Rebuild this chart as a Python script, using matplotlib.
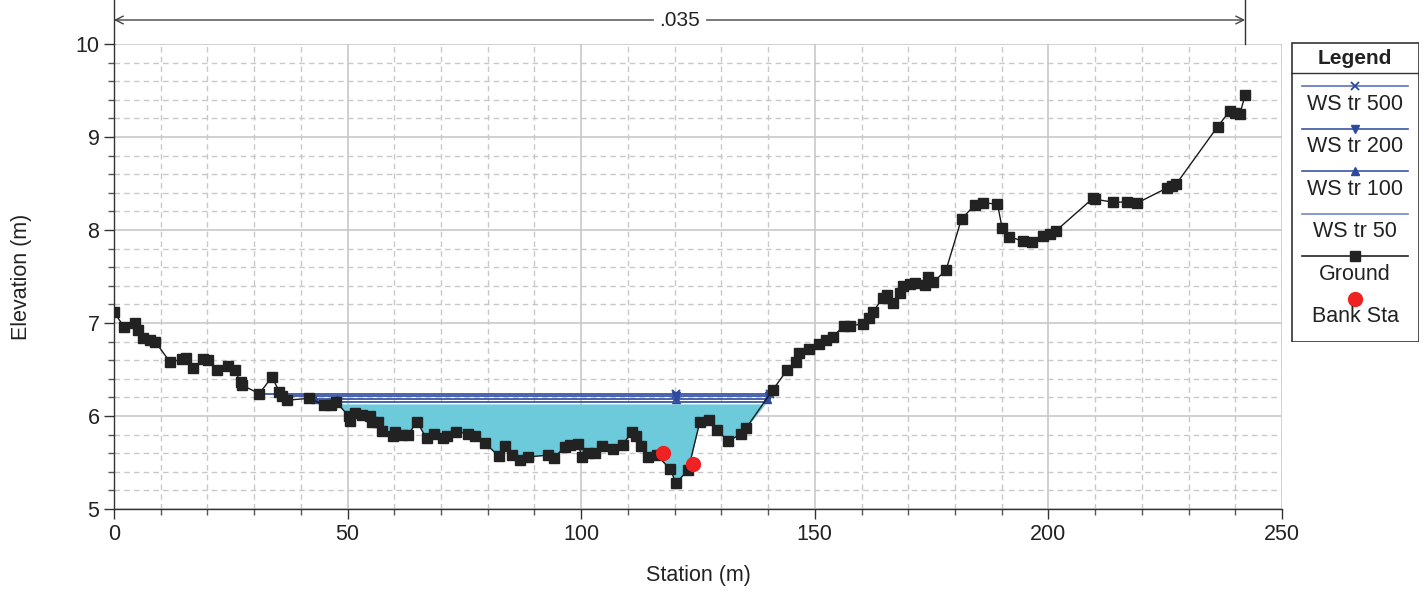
import matplotlib
matplotlib.use("Agg")
import matplotlib.pyplot as plt
import matplotlib.transforms as mtrans
from matplotlib.lines import Line2D
from matplotlib.patches import Rectangle
from matplotlib.ticker import MultipleLocator
import numpy as np

plt.rcParams['font.family'] = ['Liberation Sans', 'DejaVu Sans']

# ---------------- data ----------------
ground_x = [0.0, 2.1, 4.4, 5.2, 6.3, 7.7, 8.8, 12.0, 14.5, 15.4, 17.0, 19.1, 20.2, 22.0, 24.5, 25.8,
            27.1, 27.5, 31.1, 33.8, 35.4, 35.9, 37.0, 41.8, 44.9, 46.4, 47.6, 50.2, 50.6, 51.6, 53.0,
            54.7, 55.2, 56.6, 57.3, 59.8, 60.1, 61.6, 63.0, 64.8, 66.9, 68.5, 70.5, 71.3, 73.3, 75.8,
            77.3, 79.4, 82.3, 83.7, 85.1, 86.9, 88.7, 93.0, 94.2, 96.5, 97.6, 99.4, 100.1, 101.5,
            103.0, 104.4, 106.9, 108.9, 110.8, 111.7, 112.7, 114.4, 116.2, 119.0, 120.3, 122.9,
            125.4, 127.4, 129.0, 131.5, 134.3, 135.3, 141.0, 144.0, 146.0, 146.7, 148.8, 151.0,
            152.4, 153.8, 156.2, 157.5, 160.4, 161.5, 162.5, 164.5, 165.4, 166.8, 168.2, 168.9,
            170.4, 171.4, 173.6, 174.3, 175.4, 178.1, 181.4, 184.3, 186.1, 189.1, 190.1, 191.6,
            194.5, 196.4, 198.9, 200.3, 201.6, 209.5, 210.0, 213.8, 216.8, 219.0, 225.3, 226.4,
            227.3, 236.2, 238.8, 240.0, 241.0, 242.1]
ground_y = [7.12, 6.96, 7.00, 6.93, 6.84, 6.82, 6.80, 6.58, 6.61, 6.62, 6.52, 6.61, 6.60, 6.49, 6.54, 6.49,
            6.37, 6.33, 6.24, 6.42, 6.26, 6.22, 6.17, 6.19, 6.12, 6.12, 6.15, 6.00, 5.95, 6.03, 6.01,
            6.00, 5.94, 5.94, 5.84, 5.78, 5.83, 5.80, 5.80, 5.94, 5.76, 5.81, 5.76, 5.78, 5.83, 5.81,
            5.78, 5.71, 5.57, 5.68, 5.58, 5.53, 5.56, 5.58, 5.55, 5.67, 5.69, 5.70, 5.56, 5.60,
            5.60, 5.68, 5.65, 5.69, 5.83, 5.78, 5.68, 5.56, 5.58, 5.43, 5.28, 5.42,
            5.94, 5.96, 5.85, 5.73, 5.81, 5.87, 6.28, 6.49, 6.58, 6.68, 6.72, 6.77,
            6.82, 6.85, 6.97, 6.97, 6.99, 7.05, 7.12, 7.27, 7.30, 7.21, 7.32, 7.40,
            7.42, 7.43, 7.41, 7.50, 7.44, 7.57, 8.12, 8.27, 8.29, 8.28, 8.02, 7.93,
            7.88, 7.87, 7.94, 7.96, 7.99, 8.34, 8.33, 8.30, 8.30, 8.29, 8.45, 8.47,
            8.49, 9.11, 9.28, 9.26, 9.25, 9.45]

bank_x = [117.6, 124.0]
bank_y = [5.60, 5.48]

ws_labels = ["WS tr 500", "WS tr 200", "WS tr 100", "WS tr 50"]
ws_elev = [6.24, 6.21, 6.18, 6.15]
water_fill_elev = 6.13
ws500_x = [31.2, 120.3, 140.4]
ws200_x = [35.9, 120.3, 140.1]
ws100_x = [43.0, 47.8, 120.3, 139.8]
ws50_x = [47.5, 139.4]

n_value = ".035"
n_start, n_end = 0.0, 242.1

# ---------------- styles ----------------
WS_COLOR = '#3a55a4'
MK_COLOR = '#2d4b9e'
FILL_COLOR = '#6dcadb'

fig = plt.figure(figsize=(14.28, 5.92), dpi=100)
L, R, B, T = 114 / 1428, 1282 / 1428, 1 - 509 / 592, 1 - 44 / 592
ax = fig.add_axes([L, B, R - L, T - B])

gx = np.array(ground_x)
gy = np.array(ground_y)

# water fill (WS tr 50)
fx = np.concatenate(([ws50_x[0]], gx[(gx > ws50_x[0]) & (gx < ws50_x[1])], [ws50_x[1]]))
fy = np.interp(fx, gx, gy)
fy = np.minimum(fy, water_fill_elev)
ax.fill_between(fx, fy, water_fill_elev, color=FILL_COLOR, lw=0, zorder=2)

# WS lines
ax.plot(ws500_x, [ws_elev[0]] * len(ws500_x), color=WS_COLOR, lw=1.3, marker='x', ms=6,
        mec=MK_COLOR, mew=1.5, zorder=3)
ax.plot(ws200_x, [ws_elev[1]] * len(ws200_x), color=WS_COLOR, lw=1.3, marker='v', ms=6,
        mfc=MK_COLOR, mec=MK_COLOR, zorder=3)
ax.plot(ws100_x, [ws_elev[2]] * len(ws100_x), color=WS_COLOR, lw=1.3, marker='^', ms=6,
        mfc=MK_COLOR, mec=MK_COLOR, zorder=3)
ax.plot(ws50_x, [ws_elev[3]] * len(ws50_x), color=WS_COLOR, lw=1.3, zorder=3)

# Ground
ax.plot(gx, gy, color='#1a1a1a', lw=1.0, marker='s', ms=7.5, mfc='#222222', mec='#222222', zorder=4)
# Bank stations
ax.plot(bank_x, bank_y, ls='none', marker='o', ms=10, mfc='#ee2222', mec='#ee2222', zorder=5)

# axes formatting
ax.set_xlim(0, 250)
ax.set_ylim(5, 10)
ax.xaxis.set_major_locator(MultipleLocator(50))
ax.xaxis.set_minor_locator(MultipleLocator(10))
ax.yaxis.set_major_locator(MultipleLocator(1))
ax.yaxis.set_minor_locator(MultipleLocator(0.2))
ax.grid(which='major', color='#c8c8c8', lw=1.2, ls='-', zorder=0)
ax.grid(which='minor', color='#c8c8c8', lw=1.0, ls=(0, (4, 3)), zorder=0)
ax.set_axisbelow(True)
for s in ['top', 'right']:
    ax.spines[s].set_visible(False)
for s in ['left', 'bottom']:
    ax.spines[s].set_color('#333333')
    ax.spines[s].set_linewidth(1.0)
ax.tick_params(which='major', direction='out', length=7, width=1, color='#333333',
               labelsize=15.5, labelcolor='#222222')
ax.tick_params(which='minor', direction='out', length=4, width=1, color='#555555')
ax.set_xlabel("Station (m)", fontsize=15.5, color='#222222', labelpad=15)
ax.set_ylabel("Elevation (m)", fontsize=15.5, color='#222222', labelpad=31)

# extend left spine to the top of figure
fig.add_artist(Line2D([L, L], [T, 1.0], transform=fig.transFigure, color='#333333', lw=1.0))
# right boundary marker of n-value region
xr = L + (n_end / 250) * (R - L)
fig.add_artist(Line2D([xr, xr], [T, 1.0], transform=fig.transFigure, color='#333333', lw=1.0))

# n-value arrow
ya = 1 - 20 / 592
ax.annotate('', xy=(n_start, ya), xytext=(n_end, ya), xycoords=('data', 'figure fraction'),
            textcoords=('data', 'figure fraction'),
            arrowprops=dict(arrowstyle='<->', color='#444444', lw=1.0, shrinkA=0, shrinkB=0,
                            mutation_scale=14), annotation_clip=False)
ax.text((n_start + n_end) / 2, ya, n_value,
        transform=mtrans.blended_transform_factory(ax.transData, fig.transFigure),
        ha='center', va='center', fontsize=15, color='#222222',
        bbox=dict(facecolor='white', edgecolor='none', pad=4))

# custom legend box
lx0, ly0, lw_, lh_ = 1291, 42, 128, 300
lax = fig.add_axes([lx0 / 1428, 1 - (ly0 + lh_) / 592, lw_ / 1428, lh_ / 592])
lax.set_xlim(0, lw_)
lax.set_ylim(lh_, 0)
lax.axis('off')
lax.add_patch(Rectangle((0.5, 0.5), lw_ - 1, lh_ - 1, fill=False, ec='#333333', lw=1.2))
lax.plot([0, lw_], [31, 31], color='#333333', lw=1.0)
lax.text(lw_ / 2, 16, "Legend", ha='center', va='center', fontsize=15, fontweight='bold',
         color='#222222')
x1, x2 = 11, 117
xm = (x1 + x2) / 2
entries = [
    (ws_labels[0], dict(color='#5b73c0', lw=1.2), dict(marker='x', ms=6, mec=MK_COLOR, mew=1.3)),
    (ws_labels[1], dict(color='#3a55a4', lw=1.2), dict(marker='v', ms=6, mfc=MK_COLOR, mec=MK_COLOR)),
    (ws_labels[2], dict(color='#3a55a4', lw=1.2), dict(marker='^', ms=6, mfc=MK_COLOR, mec=MK_COLOR)),
    (ws_labels[3], dict(color='#6f86cc', lw=1.2), None),
    ("Ground", dict(color='#222222', lw=1.2), dict(marker='s', ms=7, mfc='#222222', mec='#222222')),
    ("Bank Sta", None, dict(marker='o', ms=10, mfc='#ee2222', mec='#ee2222')),
]
yline = 44
for label, lstyle, mstyle in entries:
    if lstyle is not None:
        lax.plot([x1, x2], [yline, yline], **lstyle)
    if mstyle is not None:
        lax.plot([xm], [yline], ls='none', **mstyle)
    lax.text(lw_ / 2, yline + 18, label, ha='center', va='center', fontsize=15.5, color='#222222')
    yline += 42.6

fig.savefig("out.png", dpi=100)
